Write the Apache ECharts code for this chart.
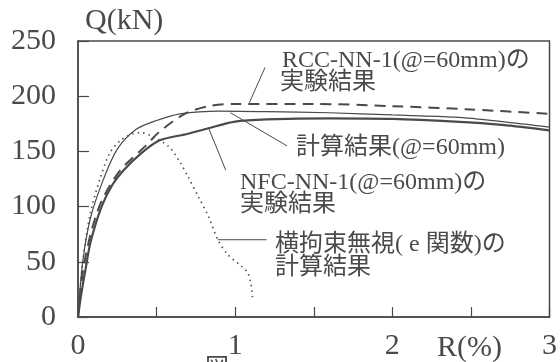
<!DOCTYPE html>
<html><head><meta charset="utf-8">
<script src="https://cdn.jsdelivr.net/npm/echarts@6/dist/echarts.min.js"></script>
<style>html,body{margin:0;padding:0;background:#fff}#c{width:560px;height:362px}</style>
</head><body><div id="c"></div>
<script>
// R(%) , Q(kN)
var rccExp = [[0,0],[0.03,40],[0.08,75],[0.15,105],[0.27,133],[0.43,155],[0.52,168],[0.68,184],[0.83,191],[1.0,193],[1.5,193],[2.0,191],[2.5,188],[3.0,184]];
var calc60 = [[0,0],[0.03,50],[0.08,90],[0.16,124],[0.25,152],[0.37,170],[0.5,178],[0.65,184],[0.9,186.5],[1.2,186],[1.6,185],[2.0,183],[2.4,181],[2.7,177],[3.0,172]];
var nfcExp = [[0,0],[0.02,20],[0.05,45],[0.08,68],[0.15,100],[0.22,120],[0.29,133],[0.4,148],[0.52,160],[0.7,166],[0.83,171],[1.0,177],[1.2,179],[1.6,180],[2.0,179.5],[2.4,177],[2.7,174],[3.0,169]];
var eFunc = [[0,0],[0.03,50],[0.08,95],[0.14,125],[0.2,148],[0.27,160],[0.35,166],[0.4,167],[0.48,163],[0.58,154],[0.65,140],[0.7,127],[0.77,108],[0.83,91],[0.89,70],[0.95,57],[1.04,46],[1.08,40],[1.1,30],[1.11,18]];
var leaderRcc = [[1.09,194],[1.19,226]];
var leaderCalc = [[0.97,185],[1.33,155]];
var leaderNfc = [[0.83,171.5],[0.94,133]];
var leaderE = [[0.89,70],[1.2,70]];
var xTickLabels = ['0','1','2','3'];

var serif = '"Liberation Serif","Noto Sans CJK JP",serif';
var col = '#4a4a4a';
var chart = echarts.init(document.getElementById('c'));
function leader(d){return {type:'line',data:d,symbol:'none',silent:true,lineStyle:{color:col,width:1},z:1};}
function txt(x,y,s,size){return {type:'text',left:x,top:y,style:{text:s,font:'normal '+size+'px '+serif,fill:col}};}
chart.setOption({
  animation:false,
  backgroundColor:'#fff',
  grid:{left:78,right:2,top:41,bottom:45,show:true,borderColor:col,borderWidth:1.5,backgroundColor:'transparent'},
  xAxis:{type:'value',min:0,max:3,interval:0.5,
    axisLine:{lineStyle:{color:col,width:1.5}},
    axisTick:{inside:true,length:10,lineStyle:{color:col,width:1.2}},
    splitLine:{show:false},
    axisLabel:{color:col,fontFamily:serif,fontSize:30,margin:14,
      formatter:function(v){var i=xTickLabels.indexOf(String(v));return i>=0?xTickLabels[i]:'';}}},
  yAxis:{type:'value',min:0,max:250,interval:50,
    axisLine:{lineStyle:{color:col,width:1.5}},
    axisTick:{inside:true,length:11,lineStyle:{color:col,width:1.2}},
    splitLine:{show:false},
    axisLabel:{color:col,fontFamily:serif,fontSize:30,margin:22}},
  series:[
    {type:'line',data:rccExp,symbol:'none',smooth:0.3,lineStyle:{color:col,width:2,type:[11,7]}},
    {type:'line',data:calc60,symbol:'none',smooth:0.3,lineStyle:{color:col,width:1.2}},
    {type:'line',data:nfcExp,symbol:'none',smooth:0.3,lineStyle:{color:col,width:2.2}},
    {type:'line',data:eFunc,symbol:'none',smooth:0.3,lineStyle:{color:col,width:1.6,type:[1.5,4]}},
    leader(leaderRcc),leader(leaderCalc),leader(leaderNfc),leader(leaderE)
  ],
  graphic:[
    txt(85,6,'Q(kN)',30),
    txt(437,333,'R(%)',30),
    txt(282,49,'RCC-NN-1(@=60mm)の',24),
    txt(280,71,'実験結果',24),
    txt(296,136,'計算結果(@=60mm)',24),
    txt(240,171,'NFC-NN-1(@=60mm)の',24),
    txt(240,193,'実験結果',24),
    txt(275,233,'横拘束無視( e 関数)の',24),
    txt(275,256,'計算結果',24),
    txt(205,357,'図',24)
  ]
});
</script></body></html>
